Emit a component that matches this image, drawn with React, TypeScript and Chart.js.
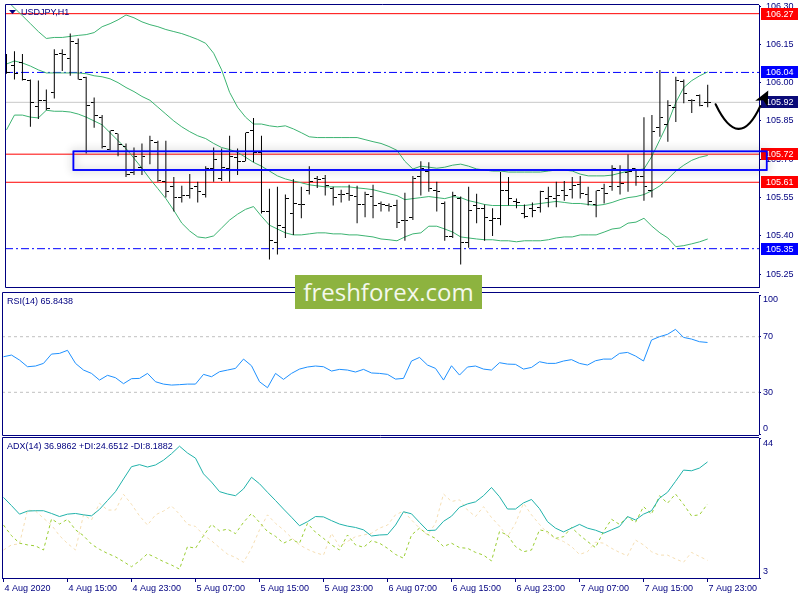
import React, { useEffect, useRef } from "react";
import { Chart, registerables } from "chart.js";

Chart.register(...registerables);

// ================= DATA =================
const opens = [
  106.054, 106.069, 106.077, 106.008, 105.908, 105.931, 105.962, 106.115, 106.096, 106.154,
  106.019, 105.923, 105.862, 105.738, 105.800, 105.750, 105.650, 105.669, 105.731, 105.765,
  105.612, 105.592, 105.550, 105.558, 105.592, 105.562, 105.662, 105.623, 105.662, 105.708,
  105.692, 105.812, 105.727, 105.496, 105.373, 105.431, 105.488, 105.523, 105.577, 105.623,
  105.623, 105.585, 105.562, 105.565, 105.554, 105.523, 105.554, 105.527, 105.519, 105.519,
  105.462, 105.473, 105.631, 105.654, 105.577, 105.527, 105.396, 105.546, 105.373, 105.519,
  105.508, 105.462, 105.469, 105.577, 105.535, 105.488, 105.508, 105.512, 105.546, 105.546,
  105.577, 105.581, 105.600, 105.562, 105.523, 105.585, 105.592, 105.592, 105.650, 105.662,
  105.631, 105.577, 105.823, 105.835, 105.904, 106.004, 105.931, 105.950, 105.923,
];
const highs = [
  106.112, 106.123, 106.112, 106.012, 106.008, 105.973, 106.131, 106.131, 106.192, 106.173,
  106.023, 105.942, 105.873, 105.812, 105.800, 105.762, 105.746, 105.762, 105.792, 105.773,
  105.773, 105.631, 105.596, 105.642, 105.612, 105.673, 105.746, 105.742, 105.792, 105.742,
  105.804, 105.862, 105.792, 105.585, 105.592, 105.562, 105.623, 105.592, 105.673, 105.635,
  105.638, 105.592, 105.581, 105.600, 105.596, 105.573, 105.600, 105.535, 105.527, 105.542,
  105.569, 105.635, 105.692, 105.688, 105.612, 105.535, 105.573, 105.554, 105.592, 105.565,
  105.523, 105.508, 105.650, 105.631, 105.546, 105.523, 105.531, 105.577, 105.592, 105.612,
  105.615, 105.631, 105.635, 105.592, 105.577, 105.604, 105.677, 105.677, 105.719, 105.662,
  105.865, 105.873, 106.050, 105.931, 106.023, 106.012, 105.935, 105.954, 105.992,
];
const lows = [
  106.035, 106.012, 106.008, 105.827, 105.858, 105.892, 105.938, 106.046, 106.027, 106.012,
  105.723, 105.823, 105.742, 105.735, 105.712, 105.631, 105.638, 105.638, 105.681, 105.612,
  105.550, 105.496, 105.531, 105.546, 105.531, 105.550, 105.612, 105.615, 105.612, 105.638,
  105.692, 105.688, 105.488, 105.308, 105.327, 105.392, 105.404, 105.469, 105.562, 105.588,
  105.558, 105.519, 105.531, 105.538, 105.450, 105.473, 105.469, 105.496, 105.496, 105.431,
  105.381, 105.462, 105.558, 105.573, 105.496, 105.381, 105.392, 105.288, 105.354, 105.450,
  105.381, 105.400, 105.442, 105.519, 105.508, 105.469, 105.473, 105.492, 105.512, 105.512,
  105.538, 105.546, 105.546, 105.519, 105.473, 105.527, 105.577, 105.562, 105.573, 105.596,
  105.538, 105.550, 105.788, 105.769, 105.846, 105.919, 105.881, 105.908, 105.904,
];
const closes = [
  106.038, 106.035, 106.012, 105.923, 105.931, 105.900, 106.112, 106.112, 106.162, 106.012,
  105.912, 105.873, 105.750, 105.812, 105.758, 105.642, 105.712, 105.712, 105.773, 105.615,
  105.573, 105.550, 105.558, 105.585, 105.573, 105.662, 105.700, 105.669, 105.712, 105.692,
  105.804, 105.727, 105.496, 105.381, 105.442, 105.546, 105.527, 105.523, 105.612, 105.619,
  105.596, 105.550, 105.562, 105.558, 105.523, 105.562, 105.519, 105.523, 105.515, 105.454,
  105.462, 105.623, 105.662, 105.585, 105.573, 105.396, 105.558, 105.373, 105.500, 105.508,
  105.473, 105.469, 105.577, 105.546, 105.531, 105.477, 105.500, 105.573, 105.554, 105.558,
  105.558, 105.596, 105.565, 105.535, 105.577, 105.565, 105.662, 105.604, 105.654, 105.631,
  105.592, 105.808, 105.862, 105.912, 106.008, 105.958, 105.931, 105.912, 105.923,
];
const bbUpper = [
  106.323, 106.292, 106.262, 106.231, 106.200, 106.173, 106.177, 106.177, 106.181, 106.185,
  106.188, 106.196, 106.219, 106.231, 106.246, 106.265, 106.254, 106.238, 106.227, 106.219,
  106.208, 106.200, 106.192, 106.181, 106.169, 106.154, 106.115, 106.050, 105.962, 105.904,
  105.865, 105.838, 105.838, 105.831, 105.827, 105.831, 105.819, 105.804, 105.788, 105.785,
  105.785, 105.785, 105.785, 105.785, 105.785, 105.777, 105.769, 105.762, 105.750, 105.735,
  105.692, 105.662, 105.673, 105.669, 105.665, 105.669, 105.677, 105.681, 105.673, 105.662,
  105.658, 105.654, 105.654, 105.650, 105.650, 105.650, 105.650, 105.650, 105.654, 105.658,
  105.658, 105.654, 105.642, 105.635, 105.635, 105.635, 105.638, 105.646, 105.654, 105.658,
  105.662, 105.712, 105.777, 105.842, 105.923, 105.981, 106.008, 106.027, 106.042,
];
const bbMiddle = [
  106.073, 106.085, 106.077, 106.065, 106.050, 106.038, 106.038, 106.038, 106.038, 106.038,
  106.035, 106.027, 106.023, 106.015, 106.000, 105.981, 105.965, 105.946, 105.931, 105.904,
  105.877, 105.850, 105.827, 105.808, 105.792, 105.781, 105.762, 105.746, 105.738, 105.727,
  105.708, 105.688, 105.673, 105.654, 105.635, 105.623, 105.615, 105.608, 105.600, 105.596,
  105.592, 105.592, 105.592, 105.592, 105.588, 105.585, 105.581, 105.573, 105.565, 105.558,
  105.542, 105.546, 105.550, 105.554, 105.550, 105.546, 105.554, 105.550, 105.538, 105.531,
  105.523, 105.519, 105.519, 105.519, 105.519, 105.519, 105.523, 105.527, 105.531, 105.535,
  105.531, 105.527, 105.527, 105.523, 105.519, 105.523, 105.531, 105.542, 105.550, 105.554,
  105.562, 105.577, 105.596, 105.623, 105.654, 105.677, 105.696, 105.708, 105.715,
];
const bbLower = [
  105.815, 105.873, 105.873, 105.865, 105.862, 105.892, 105.888, 105.888, 105.885, 105.877,
  105.865, 105.850, 105.835, 105.804, 105.773, 105.742, 105.704, 105.665, 105.623, 105.585,
  105.546, 105.500, 105.450, 105.419, 105.396, 105.392, 105.400, 105.431, 105.462, 105.485,
  105.504, 105.515, 105.477, 105.442, 105.427, 105.412, 105.404, 105.404, 105.408, 105.412,
  105.412, 105.408, 105.408, 105.404, 105.404, 105.400, 105.396, 105.388, 105.385, 105.381,
  105.396, 105.408, 105.412, 105.438, 105.438, 105.427, 105.415, 105.396, 105.392, 105.388,
  105.385, 105.385, 105.381, 105.381, 105.377, 105.381, 105.381, 105.381, 105.385, 105.392,
  105.396, 105.396, 105.404, 105.404, 105.404, 105.415, 105.427, 105.431, 105.450, 105.454,
  105.469, 105.438, 105.412, 105.392, 105.358, 105.362, 105.369, 105.377, 105.388,
];
const rsiValues = [
  55.6, 56.8, 53.2, 48.4, 48.9, 50.8, 57.5, 58.0, 60.2, 50.8,
  46.0, 43.6, 38.8, 42.2, 40.5, 36.2, 39.8, 40.0, 43.6, 37.6,
  35.9, 35.2, 35.5, 35.9, 35.9, 42.9, 41.2, 44.8, 46.0, 47.2,
  53.9, 49.1, 37.6, 33.3, 43.6, 39.3, 43.6, 46.7, 48.2, 48.9,
  48.4, 45.3, 46.5, 46.0, 44.6, 46.5, 43.9, 43.6, 42.9, 39.5,
  40.0, 52.5, 55.1, 49.6, 47.2, 38.8, 49.1, 42.4, 48.2, 48.9,
  46.7, 46.0, 51.3, 50.3, 50.1, 46.7, 47.9, 52.0, 50.8, 50.8,
  52.5, 53.5, 50.8, 49.6, 52.7, 53.9, 53.9, 58.0, 58.7, 56.1,
  52.5, 67.6, 70.0, 71.7, 75.3, 69.5, 68.3, 66.4, 65.8438,
];
const adxValues = [
  26.6, 24.2, 21.7, 22.6, 22.7, 22.7, 21.9, 21.0, 21.7, 21.9,
  21.5, 21.2, 23.1, 25.7, 28.3, 32.0, 35.6, 36.2, 35.5, 36.1,
  37.5, 39.4, 41.6, 39.6, 38.1, 33.5, 31.1, 28.3, 27.6, 27.1,
  29.1, 32.5, 30.6, 28.1, 25.7, 23.2, 20.8, 18.3, 19.5, 21.0,
  20.9, 19.8, 18.8, 18.2, 17.8, 17.1, 15.3, 15.6, 15.7, 18.5,
  22.4, 21.8, 19.3, 16.9, 17.0, 19.6, 21.1, 23.7, 24.7, 25.3,
  27.1, 29.5, 26.8, 23.2, 23.2, 25.0, 26.0, 23.3, 19.5, 17.6,
  16.5, 17.6, 18.7, 17.6, 17.0, 16.1, 17.1, 18.1, 21.0, 20.0,
  21.7, 22.7, 26.4, 28.1, 31.3, 34.6, 34.4, 35.2, 36.9862,
];
const plusDI = [
  18.5, 15.4, 13.2, 12.7, 12.4, 11.2, 20.3, 18.8, 20.2, 17.1,
  15.4, 12.9, 11.4, 10.2, 9.2, 7.8, 6.3, 8.0, 10.1, 9.0,
  7.8, 6.8, 5.6, 12.2, 11.7, 15.4, 18.7, 16.8, 17.3, 16.0,
  19.3, 21.9, 19.3, 16.6, 15.2, 13.2, 14.3, 13.2, 19.0, 16.4,
  14.6, 12.7, 11.2, 15.6, 12.7, 12.0, 13.9, 13.2, 11.7, 9.9,
  8.8, 15.6, 17.6, 15.8, 14.6, 12.2, 13.2, 11.9, 11.7, 10.5,
  9.7, 8.0, 16.6, 15.6, 12.2, 10.7, 11.2, 17.1, 16.6, 14.6,
  15.1, 17.8, 15.6, 13.7, 11.9, 16.6, 20.2, 18.7, 20.8, 19.3,
  23.9, 21.7, 27.1, 24.9, 27.6, 24.6, 21.2, 21.5, 24.6512,
];
const minusDI = [
  11.2, 12.7, 13.0, 22.9, 22.6, 20.5, 18.5, 15.4, 13.1, 11.2,
  21.5, 20.0, 24.9, 22.9, 22.9, 27.5, 24.6, 21.2, 18.5, 21.5,
  22.6, 24.1, 21.7, 18.7, 18.1, 15.6, 13.9, 11.9, 10.0, 9.0,
  7.6, 11.7, 17.1, 21.5, 19.0, 17.1, 14.8, 12.7, 11.4, 10.4,
  9.7, 16.1, 12.2, 13.7, 15.1, 15.6, 16.1, 17.6, 18.5, 21.5,
  22.6, 20.0, 17.6, 15.6, 19.0, 27.6, 25.4, 25.9, 22.9, 21.0,
  23.9, 20.7, 18.2, 15.1, 19.0, 24.9, 21.5, 18.7, 16.1, 14.6,
  13.7, 12.2, 9.9, 10.7, 13.5, 13.2, 11.7, 10.5, 9.5, 14.1,
  12.7, 10.7, 9.7, 9.7, 8.6, 7.6, 10.5, 9.3, 8.1882,
];
const xTickBars = [0, 8, 16, 24, 32, 40, 48, 56, 64, 72, 80, 88];
const xTickLabels = [
  "4 Aug 2020", "4 Aug 15:00", "4 Aug 23:00", "5 Aug 07:00", "5 Aug 15:00", "5 Aug 23:00",
  "6 Aug 07:00", "6 Aug 15:00", "6 Aug 23:00", "7 Aug 07:00", "7 Aug 15:00", "7 Aug 23:00",
];
const priceTicks = [106.3, 106.15, 106.0, 105.85, 105.7, 105.55, 105.4, 105.25];
const rsiTicks = [0, 30, 70, 100];
const rsiLevels = [70, 30];
const adxTicks = [3, 44];
const redLevels = [106.27, 105.72, 105.61];
const blueLevels = [106.04, 105.35];
const zoneBars = [8.4, 95.4];
const zonePrices = [105.731, 105.658];
const arrowBars = [89.0, 91.9, 94.6, 95.6];
const arrowPrices = [105.915, 105.819, 105.908, 105.969];

// ================= STYLE / LAYOUT =================
const X_MIN = -0.1875;
const X_MAX = 94.4375;
const PRICE_MIN = 105.2;
const PRICE_MAX = 106.304;
const NAVY = "#000080";
const RED = "#FF0000";
const BLUE = "#0000FF";
const LAST_BOX = "#0A0A78";
const BAND = "#3CB371";
const FONT = "'Liberation Sans', Arial, sans-serif";
const font9 = { family: FONT, size: 9 };

const pts = (arr: number[]) => arr.map((v, i) => ({ x: i, y: v }));
const hline = (v: number) => [{ x: X_MIN, y: v }, { x: X_MAX, y: v }];

function xAxis(show: boolean) {
  return {
    type: "linear",
    min: X_MIN,
    max: X_MAX,
    offset: false,
    display: show,
    grid: { display: true, drawOnChartArea: false, drawTicks: true, tickLength: 4, color: NAVY, offset: false },
    border: { display: true, color: NAVY, width: 1 },
    afterBuildTicks: (axis: any) => {
      axis.ticks = xTickBars.map((v) => ({ value: v }));
    },
    ticks: {
      autoSkip: false,
      maxRotation: 0,
      minRotation: 0,
      align: "start",
      labelOffset: 1,
      padding: 1,
      color: NAVY,
      font: font9,
      callback: (_v: any, i: number) => xTickLabels[i] ?? "",
    },
    afterFit: (axis: any) => {
      axis.height = show ? 22 : 0;
      axis.paddingLeft = 0;
      axis.paddingRight = 0;
    },
  };
}

function yAxis(min: number, max: number, ticks: number[], fmt: (v: any) => string, tickLen: number, pad: number) {
  return {
    type: "linear",
    position: "right",
    min,
    max,
    afterBuildTicks: (axis: any) => {
      axis.ticks = ticks.map((v) => ({ value: v }));
    },
    grid: { drawOnChartArea: false, drawTicks: true, tickLength: tickLen, color: NAVY },
    border: { display: true, color: NAVY, width: 1 },
    ticks: { color: NAVY, font: font9, padding: pad, autoSkip: false, callback: fmt },
    afterFit: (axis: any) => {
      axis.width = 41;
      axis.paddingTop = 0;
      axis.paddingBottom = 0;
    },
  };
}

function baseOptions(padding: any, scales: any) {
  return {
    responsive: false,
    animation: false,
    devicePixelRatio: 1,
    events: [],
    layout: { padding },
    plugins: { legend: { display: false }, tooltip: { enabled: false } },
    scales,
  };
}

function drawFrame(chart: any, topOff: number, bottomOff: number) {
  const { ctx, chartArea: a } = chart;
  const t = Math.round(a.top - topOff) + 0.5;
  const b = Math.round(a.bottom + bottomOff) + 0.5;
  const l = Math.round(a.left) + 0.5;
  ctx.save();
  ctx.strokeStyle = NAVY;
  ctx.lineWidth = 1;
  ctx.beginPath();
  ctx.moveTo(a.right, t);
  ctx.lineTo(l, t);
  ctx.lineTo(l, b);
  ctx.lineTo(a.right, b);
  ctx.stroke();
  ctx.restore();
}

function makeTick(side: "left" | "right") {
  const c = document.createElement("canvas");
  c.width = 7;
  c.height = 1;
  const g = c.getContext("2d")!;
  g.fillStyle = "#000";
  if (side === "left") g.fillRect(0, 0, 3, 1);
  else g.fillRect(4, 0, 3, 1);
  return c;
}

const pricePanelPlugin = {
  id: "pricePanel",
  afterDraw(chart: any) {
    const { ctx, chartArea: a, scales } = chart;
    const x = scales.x;
    const y = scales.y;
    drawFrame(chart, 1, 0);
    ctx.save();
    const lastClose = closes[closes.length - 1];
    const boxes: [number, string][] = [
      ...redLevels.map((v) => [v, RED] as [number, string]),
      ...blueLevels.map((v) => [v, BLUE] as [number, string]),
      [lastClose, LAST_BOX],
    ];
    ctx.font = `9px ${FONT}`;
    ctx.textBaseline = "middle";
    ctx.textAlign = "left";
    for (const [v, c] of boxes) {
      const py = y.getPixelForValue(v);
      ctx.fillStyle = c;
      ctx.fillRect(a.right + 2, Math.round(py) - 6, 37, 12);
      ctx.fillStyle = "#FFFFFF";
      ctx.fillText(v.toFixed(2), a.right + 7, Math.round(py) + 0.5);
    }
    // support zone rectangle with shadow
    const zx0 = x.getPixelForValue(zoneBars[0]);
    const zx1 = x.getPixelForValue(zoneBars[1]);
    const zy0 = y.getPixelForValue(zonePrices[0]);
    const zy1 = y.getPixelForValue(zonePrices[1]);
    ctx.save();
    ctx.shadowColor = "rgba(0,0,0,0.45)";
    ctx.shadowBlur = 9;
    ctx.strokeStyle = BLUE;
    ctx.lineWidth = 1.5;
    ctx.strokeRect(zx0, zy0, zx1 - zx0, zy1 - zy0);
    ctx.restore();
    ctx.strokeStyle = BLUE;
    ctx.lineWidth = 1.5;
    ctx.strokeRect(zx0, zy0, zx1 - zx0, zy1 - zy0);
    // curved arrow
    const P = arrowBars.map((b, i) => [x.getPixelForValue(b), y.getPixelForValue(arrowPrices[i])]);
    ctx.strokeStyle = "#000";
    ctx.lineWidth = 2.2;
    ctx.lineCap = "round";
    ctx.beginPath();
    ctx.moveTo(P[0][0], P[0][1]);
    ctx.quadraticCurveTo(P[1][0], P[1][1] + (P[1][1] - (P[0][1] + P[2][1]) / 2), P[2][0], P[2][1]);
    ctx.stroke();
    const dx = P[3][0] - P[2][0];
    const dy = P[3][1] - P[2][1];
    const len = Math.hypot(dx, dy);
    const ux = dx / len;
    const uy = dy / len;
    const bx = P[3][0] - ux * 15;
    const by = P[3][1] - uy * 15;
    ctx.fillStyle = "#000";
    ctx.beginPath();
    ctx.moveTo(P[3][0], P[3][1]);
    ctx.lineTo(bx - uy * 7, by + ux * 7);
    ctx.lineTo(bx + ux * 4, by + uy * 4);
    ctx.lineTo(bx + uy * 7, by - ux * 7);
    ctx.closePath();
    ctx.fill();
    // title
    ctx.fillStyle = NAVY;
    ctx.beginPath();
    ctx.moveTo(a.left + 4, a.top + 5);
    ctx.lineTo(a.left + 11, a.top + 5);
    ctx.lineTo(a.left + 7.5, a.top + 9);
    ctx.closePath();
    ctx.fill();
    ctx.textAlign = "left";
    ctx.textBaseline = "middle";
    ctx.font = `9px ${FONT}`;
    ctx.fillText("USDJPY,H1", a.left + 16, a.top + 7.5);
    ctx.restore();
  },
};

const rsiPanelPlugin = {
  id: "rsiPanel",
  afterDraw(chart: any) {
    const { ctx, chartArea: a } = chart;
    drawFrame(chart, 3, 1);
    ctx.save();
    ctx.fillStyle = NAVY;
    ctx.font = `9px ${FONT}`;
    ctx.textBaseline = "middle";
    ctx.textAlign = "left";
    ctx.fillText("RSI(14) " + rsiValues[rsiValues.length - 1].toFixed(4), a.left + 5, a.top + 7);
    ctx.fillText(String(rsiTicks[rsiTicks.length - 1]), a.right + 4, a.top + 4.5);
    ctx.fillText(String(rsiTicks[0]), a.right + 4, a.bottom - 5.5);
    ctx.restore();
  },
};

const adxPanelPlugin = {
  id: "adxPanel",
  afterDraw(chart: any) {
    const { ctx, chartArea: a } = chart;
    drawFrame(chart, 1, 0);
    ctx.save();
    ctx.fillStyle = NAVY;
    ctx.font = `9px ${FONT}`;
    ctx.textBaseline = "middle";
    ctx.textAlign = "left";
    const n = adxValues.length - 1;
    ctx.fillText(
      `ADX(14) ${adxValues[n].toFixed(4)} +DI:${plusDI[n].toFixed(4)} -DI:${minusDI[n].toFixed(4)}`,
      a.left + 5,
      a.top + 9
    );
    ctx.fillText(String(adxTicks[1]), a.right + 4, a.top + 6);
    ctx.fillText(String(adxTicks[0]), a.right + 4, a.bottom - 6.3);
    ctx.restore();
  },
};

export default function App() {
  const priceRef = useRef<HTMLCanvasElement>(null);
  const rsiRef = useRef<HTMLCanvasElement>(null);
  const adxRef = useRef<HTMLCanvasElement>(null);

  useEffect(() => {
    const openTick = makeTick("left");
    const closeTick = makeTick("right");
    const wicks = lows.map((l, i) => ({ x: i, y: [l, highs[i]] }));

    const priceChart = new Chart(priceRef.current as HTMLCanvasElement, {
      type: "line",
      data: {
        datasets: [
          { type: "line", data: pts(opens), showLine: false, pointStyle: openTick, pointRadius: 4, pointHoverRadius: 4 },
          { type: "line", data: pts(closes), showLine: false, pointStyle: closeTick, pointRadius: 4, pointHoverRadius: 4 },
          { type: "bar", data: wicks, backgroundColor: "#000000", borderWidth: 0, barThickness: 1, inflateAmount: 0 },
          { type: "line", data: pts(bbUpper), borderColor: BAND, borderWidth: 1, pointRadius: 0, tension: 0 },
          { type: "line", data: pts(bbMiddle), borderColor: BAND, borderWidth: 1, pointRadius: 0, tension: 0 },
          { type: "line", data: pts(bbLower), borderColor: BAND, borderWidth: 1, pointRadius: 0, tension: 0 },
          ...redLevels.map((v) => ({ type: "line", data: hline(v), borderColor: RED, borderWidth: 1, pointRadius: 0 })),
          ...blueLevels.map((v) => ({
            type: "line", data: hline(v), borderColor: BLUE, borderWidth: 1, borderDash: [8, 3, 2, 3], pointRadius: 0,
          })),
          { type: "line", data: hline(closes[closes.length - 1]), borderColor: "#C8C8C8", borderWidth: 1, pointRadius: 0 },
        ],
      } as any,
      options: baseOptions(
        { left: 2, right: 0, top: 3, bottom: 2 },
        {
          x: xAxis(false),
          y: yAxis(PRICE_MIN, PRICE_MAX, priceTicks, (v: any) => Number(v).toFixed(2), 2, 5),
        }
      ) as any,
      plugins: [pricePanelPlugin],
    });

    const rsiChart = new Chart(rsiRef.current as HTMLCanvasElement, {
      type: "line",
      data: {
        datasets: [
          { data: pts(rsiValues), borderColor: "#1E90FF", borderWidth: 1, pointRadius: 0, tension: 0 },
          ...rsiLevels.map((v) => ({ data: hline(v), borderColor: "#C0C0C0", borderWidth: 1, borderDash: [3, 3], pointRadius: 0 })),
        ],
      } as any,
      options: baseOptions(
        { left: 2, right: 0, top: 4, bottom: 3 },
        {
          x: xAxis(false),
          y: yAxis(0, 100, rsiTicks, (v: any) => (v === 0 || v === 100 ? "" : String(v)), 2, 2),
        }
      ) as any,
      plugins: [rsiPanelPlugin],
    });

    const adxChart = new Chart(adxRef.current as HTMLCanvasElement, {
      type: "line",
      data: {
        datasets: [
          { data: pts(adxValues), borderColor: "#20B2AA", borderWidth: 1, pointRadius: 0, tension: 0 },
          { data: pts(plusDI), borderColor: "#9ACD32", borderWidth: 1, borderDash: [3, 3], pointRadius: 0, tension: 0 },
          { data: pts(minusDI), borderColor: "#F5DEB3", borderWidth: 1, borderDash: [3, 3], pointRadius: 0, tension: 0 },
        ],
      } as any,
      options: baseOptions(
        { left: 2, right: 0, top: 2, bottom: 0 },
        {
          x: xAxis(true),
          y: yAxis(adxTicks[0], adxTicks[1], adxTicks, () => "", 2, 2),
        }
      ) as any,
      plugins: [adxPanelPlugin],
    });

    return () => {
      priceChart.destroy();
      rsiChart.destroy();
      adxChart.destroy();
    };
  }, []);

  const canvasStyle = (top: number): React.CSSProperties => ({ position: "absolute", left: 0, top, display: "block" });

  return (
    <div style={{ position: "fixed", left: 0, top: 0, width: 800, height: 600, background: "#FFFFFF", overflow: "hidden" }}>
      <canvas ref={priceRef} width={800} height={292} style={canvasStyle(0)} />
      <canvas ref={rsiRef} width={800} height={146} style={canvasStyle(291)} />
      <canvas ref={adxRef} width={800} height={164} style={canvasStyle(436)} />
      <div
        style={{
          position: "absolute",
          left: 295,
          top: 275,
          width: 187,
          height: 34,
          background: "#8DB33F",
          color: "#F4F8EC",
          fontFamily: "'Open Sans', sans-serif",
          fontSize: 24,
          lineHeight: "34px",
          textAlign: "center",
          whiteSpace: "nowrap",
        }}
      >
        freshforex.com
      </div>
    </div>
  );
}
